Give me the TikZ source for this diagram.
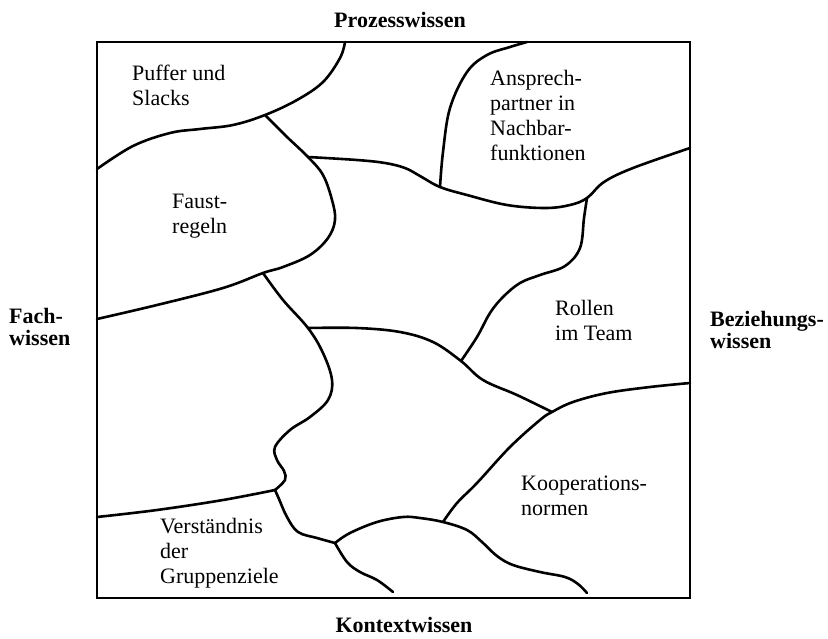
\documentclass[tikz,border=0pt]{standalone}
\usepackage{fontspec}
\setmainfont{Liberation Serif}
\begin{document}
\begin{tikzpicture}[x=1pt,y=-1pt,
  border/.style={line width=2.6pt},
  seam/.style={line width=2.6pt, line cap=round, line join=round},
  field/.style={anchor=base west, inner sep=0pt, align=left,
    font=\fontsize{22}{25}\selectfont},
  axis/.style={inner sep=0pt, font=\fontsize{22}{22}\bfseries\selectfont}]
\useasboundingbox (0,0) rectangle (828,638);

% outer frame
\draw[border] (97,42) rectangle (690,598);

% junctions where seams meet
\coordinate (J1) at (265,115);
\coordinate (J2) at (308,157);
\coordinate (J3) at (263,273);
\coordinate (J4) at (440,187);
\coordinate (J5) at (587,198);
\coordinate (J6) at (461,361);
\coordinate (J7) at (308,328);
\coordinate (J8) at (275,490);
\coordinate (J9) at (552,412);
\coordinate (J10) at (443,522);
\coordinate (J11) at (335,543);

% seams between the knowledge fields
\draw[seam] plot[smooth, tension=0.6] coordinates
  {(345,42) (340,58) (323,82) (297,100) (J1) (233,125) (200,129) (170,133) (133,146) (97,169)};
\draw[seam] plot[smooth, tension=0.6] coordinates
  {(J1) (286,136) (J2) (323,175) (332,200) (335,220) (328,238) (310,255) (283,267) (J3) (223,288) (157,305) (97,319)};
\draw[seam] plot[smooth, tension=0.6] coordinates
  {(J2) (357,160) (385,163) (405,168) (420,176) (J4) (467,195) (507,205) (545,208) (570,205) (J5) (604,182) (633,168) (690,148)};
\draw[seam] plot[smooth, tension=0.6] coordinates
  {(J4) (443,152) (450,108) (467,72) (487,55) (510,47) (527,42)};
\draw[seam] plot[smooth, tension=0.6] coordinates
  {(J5) (584,218) (580,248) (565,266) (540,275) (520,283) (503,297) (490,313) (477,337) (J6)};
\draw[seam] plot[smooth, tension=0.6] coordinates
  {(J3) (283,300) (J7) (323,353) (332,380) (328,400) (310,417) (290,430) (275,447) (277,460) (284,471) (285,480) (J8)};
\draw[seam] plot[smooth, tension=0.6] coordinates
  {(J8) (223,500) (157,510) (97,517)};
\draw[seam] plot[smooth, tension=0.6] coordinates
  {(J7) (357,328) (400,332) (433,342) (J6) (483,380) (517,395) (J9)};
\draw[seam] plot[smooth, tension=0.6] coordinates
  {(J10) (457,503) (477,483) (510,447) (540,420) (J9) (573,402) (607,393) (650,387) (690,383)};
\draw[seam] plot[smooth, tension=0.6] coordinates
  {(J8) (279,499) (287,517) (298,532) (317,538) (J11)};
\draw[seam] plot[smooth, tension=0.6] coordinates
  {(J11) (350,533) (377,522) (403,517) (420,518) (J10) (467,530) (482,542) (497,556) (513,565) (540,572) (565,577) (578,584) (587,593)};
\draw[seam] plot[smooth, tension=0.6] coordinates
  {(J11) (347,562) (360,572) (377,580) (393,592)};

% field labels (anchored at the baseline of their last line)
\node[field] (puffer) at (132,105) {Puffer und\\Slacks};
\node[field] (faust) at (172,233) {Faust-\\regeln};
\node[field] (ansprech) at (490,160) {Ansprech-\\partner in\\Nachbar-\\funktionen};
\node[field] (rollen) at (555,340) {Rollen\\im Team};
\node[field] (koop) at (521,515) {Kooperations-\\normen};
\node[field] (verst) at (160,583) {Verständnis\\der\\Gruppenziele};

% axis labels
\node[axis, anchor=base] (top) at (400,27) {Prozesswissen};
\node[axis, anchor=base] (bottom) at (404,632) {Kontextwissen};
\node[axis, anchor=base west, align=left] (left) at (9,345) {Fach-\\wissen};
\node[axis, anchor=base west, align=left] (right) at (710,348) {Beziehungs-\\wissen};
\end{tikzpicture}
\end{document}
